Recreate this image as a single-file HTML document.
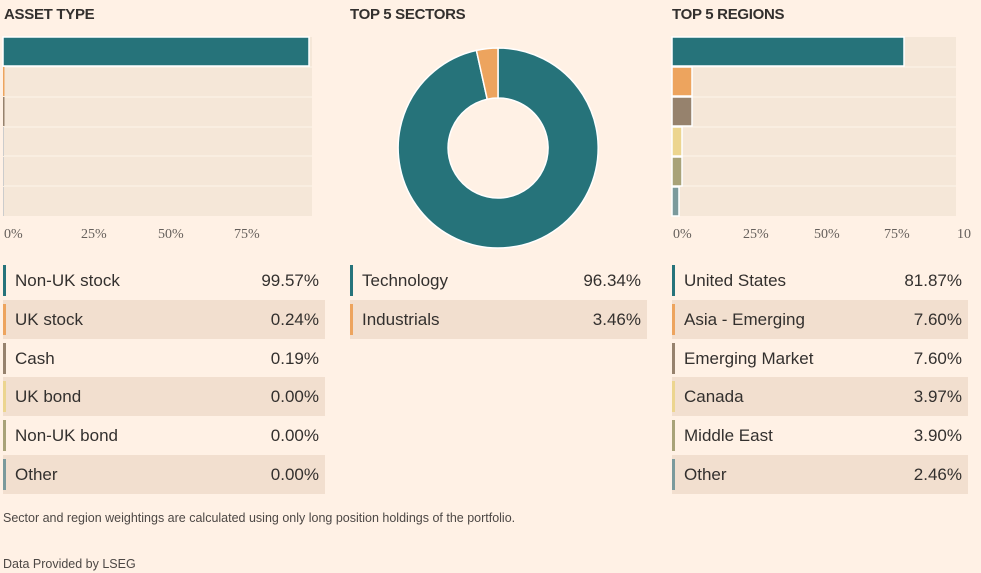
<!DOCTYPE html>
<html><head><meta charset="utf-8"><style>
body{margin:0;width:981px;height:573px;background:#fff1e5;font-family:"Liberation Sans",sans-serif;color:#33302e;position:relative;overflow:hidden}
.h{position:absolute;top:6px;font-weight:bold;font-size:15px;letter-spacing:-0.3px;color:#33302e}
.abs{position:absolute}
.row{position:absolute;height:38.8px;font-size:17px;line-height:40px}
.row .bar{position:absolute;left:0;top:4px;width:3px;height:31px}
.row .l{position:absolute;left:12px}
.row .r{position:absolute;right:6px}
.alt{background:#f2dfcf}
.tick{position:absolute;top:227px;font-family:"Liberation Serif",serif;font-size:14px;color:#66605c}
</style></head><body>
<div class="h" style="left:4px">ASSET TYPE</div>
<div class="h" style="left:350px">TOP 5 SECTORS</div>
<div class="h" style="left:672px">TOP 5 REGIONS</div>

<svg class="abs" style="left:0;top:0" width="981" height="250">
<g fill="#f5e7d8">
<rect x="3" y="37" width="309" height="179"/>
<rect x="672" y="37" width="284" height="179"/>
</g>
<g stroke="#fdf4ea" stroke-width="1">
<line x1="3" x2="312" y1="67" y2="67"/><line x1="3" x2="312" y1="97" y2="97"/><line x1="3" x2="312" y1="127" y2="127"/><line x1="3" x2="312" y1="156" y2="156"/><line x1="3" x2="312" y1="186" y2="186"/>
<line x1="672" x2="956" y1="67" y2="67"/><line x1="672" x2="956" y1="97" y2="97"/><line x1="672" x2="956" y1="127" y2="127"/><line x1="672" x2="956" y1="156" y2="156"/><line x1="672" x2="956" y1="186" y2="186"/>
</g>
<g stroke="#fff" stroke-width="1.5">
<rect x="3" y="37" width="306" height="29" fill="#26737a"/>
<rect x="3" y="67" width="1.5" height="29" fill="#eda45e" stroke="none"/>
<rect x="3" y="97" width="1.5" height="29" fill="#96826d" stroke="none"/>
<rect x="3" y="127" width="1" height="29" fill="#ccc" stroke="none"/>
<rect x="3" y="157" width="1" height="29" fill="#ccc" stroke="none"/>
<rect x="3" y="187" width="1" height="29" fill="#ccc" stroke="none"/>
<rect x="672" y="37" width="232" height="29" fill="#26737a"/>
<rect x="672" y="67" width="20" height="29" fill="#eda45e"/>
<rect x="672" y="97" width="20" height="29" fill="#96826d"/>
<rect x="672" y="127" width="10" height="29" fill="#ecd58f"/>
<rect x="672" y="157" width="10" height="29" fill="#a8a278"/>
<rect x="672" y="187" width="7" height="29" fill="#7b9a9c"/>
</g>
<g stroke="#fff" stroke-width="1.5">
<path d="M498 48 A100 100 0 1 1 476.4 50.4 L487.2 99.2 A50 50 0 1 0 498 98 Z" fill="#26737a"/>
<path d="M476.4 50.4 A100 100 0 0 1 498 48 L498 98 A50 50 0 0 0 487.2 99.2 Z" fill="#eda45e"/>
</g>
</svg>
<div class="tick" style="left:4px">0%</div>
<div class="tick" style="left:81px">25%</div>
<div class="tick" style="left:158px">50%</div>
<div class="tick" style="left:234px">75%</div>
<div class="tick" style="left:673px">0%</div>
<div class="tick" style="left:743px">25%</div>
<div class="tick" style="left:814px">50%</div>
<div class="tick" style="left:884px">75%</div>
<div class="tick" style="left:957px">10</div>

<div class="row" style="left:3px;top:261px;width:322px"><div class="bar" style="background:#26737a"></div><span class="l">Non-UK stock</span><span class="r">99.57%</span></div>
<div class="row alt" style="left:3px;top:300px;width:322px"><div class="bar" style="background:#eda45e"></div><span class="l">UK stock</span><span class="r">0.24%</span></div>
<div class="row" style="left:3px;top:339px;width:322px"><div class="bar" style="background:#96826d"></div><span class="l">Cash</span><span class="r">0.19%</span></div>
<div class="row alt" style="left:3px;top:377px;width:322px"><div class="bar" style="background:#ecd58f"></div><span class="l">UK bond</span><span class="r">0.00%</span></div>
<div class="row" style="left:3px;top:416px;width:322px"><div class="bar" style="background:#a8a278"></div><span class="l">Non-UK bond</span><span class="r">0.00%</span></div>
<div class="row alt" style="left:3px;top:455px;width:322px"><div class="bar" style="background:#7b9a9c"></div><span class="l">Other</span><span class="r">0.00%</span></div>

<div class="row" style="left:350px;top:261px;width:297px"><div class="bar" style="background:#26737a"></div><span class="l">Technology</span><span class="r">96.34%</span></div>
<div class="row alt" style="left:350px;top:300px;width:297px"><div class="bar" style="background:#eda45e"></div><span class="l">Industrials</span><span class="r">3.46%</span></div>

<div class="row" style="left:672px;top:261px;width:296px"><div class="bar" style="background:#26737a"></div><span class="l">United States</span><span class="r">81.87%</span></div>
<div class="row alt" style="left:672px;top:300px;width:296px"><div class="bar" style="background:#eda45e"></div><span class="l">Asia - Emerging</span><span class="r">7.60%</span></div>
<div class="row" style="left:672px;top:339px;width:296px"><div class="bar" style="background:#96826d"></div><span class="l">Emerging Market</span><span class="r">7.60%</span></div>
<div class="row alt" style="left:672px;top:377px;width:296px"><div class="bar" style="background:#ecd58f"></div><span class="l">Canada</span><span class="r">3.97%</span></div>
<div class="row" style="left:672px;top:416px;width:296px"><div class="bar" style="background:#a8a278"></div><span class="l">Middle East</span><span class="r">3.90%</span></div>
<div class="row alt" style="left:672px;top:455px;width:296px"><div class="bar" style="background:#7b9a9c"></div><span class="l">Other</span><span class="r">2.46%</span></div>

<div class="abs" style="left:3px;top:511px;font-size:12.5px;color:#4d4845">Sector and region weightings are calculated using only long position holdings of the portfolio.</div>
<div class="abs" style="left:3px;top:557px;font-size:12.5px;color:#4d4845">Data Provided by LSEG</div>
</body></html>
